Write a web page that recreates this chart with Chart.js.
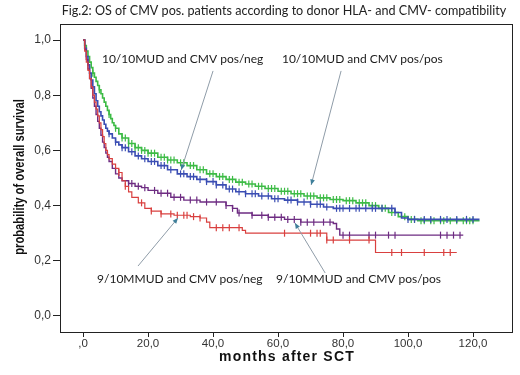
<!DOCTYPE html>
<html>
<head>
<meta charset="utf-8">
<script src="https://cdn.jsdelivr.net/npm/chart.js@4.4.1/dist/chart.umd.min.js"></script>
<style>
  html, body { margin: 0; padding: 0; background: #fff; }
  #wrap { width: 520px; height: 375px; }
</style>
</head>
<body>
<div id="wrap"><canvas id="km" width="520" height="375"></canvas></div>
<script>
// Kaplan-Meier steps (months after SCT / probability of survival)
const greenMonths = [0, 0.5, 1, 1.5, 2, 2.5, 3, 3.5, 4, 4.5, 5, 5.5, 6, 6.5, 7, 7.5, 8, 8.5, 9, 9.5, 10, 11, 12, 14, 16, 18, 20, 23, 26, 29, 32, 35, 38, 41, 44, 47, 50, 53, 56, 60, 64, 68, 72, 76, 80, 84, 88, 91, 94, 97, 100, 103, 122];
const greenSurv = [1.0, 0.98, 0.96, 0.94, 0.92, 0.90, 0.88, 0.865, 0.85, 0.835, 0.82, 0.805, 0.79, 0.775, 0.76, 0.745, 0.73, 0.715, 0.70, 0.69, 0.68, 0.66, 0.645, 0.625, 0.61, 0.60, 0.59, 0.575, 0.565, 0.555, 0.545, 0.53, 0.515, 0.505, 0.495, 0.485, 0.478, 0.47, 0.462, 0.452, 0.443, 0.435, 0.428, 0.422, 0.418, 0.41, 0.40, 0.39, 0.375, 0.36, 0.35, 0.345, 0.345];
const greenCensored = [3, 5, 8, 10, 12, 13, 14, 15, 16, 17, 18, 19, 20, 21, 22, 24, 25, 26, 27, 28, 30, 31, 33, 34, 36, 37, 39, 40, 42, 43, 45, 46, 48, 49, 51, 52, 54, 55, 57, 58, 59, 61, 62, 63, 65, 66, 67, 69, 70, 71, 73, 74, 75, 77, 78, 79, 81, 82, 83, 85, 86, 87, 89, 90, 92, 93, 95, 99, 101, 102, 104, 105, 107, 108, 110, 111, 113, 115, 117, 118, 119, 120];

const blueMonths = [0, 0.5, 1, 1.5, 2, 2.5, 3, 3.5, 4, 4.5, 5, 5.5, 6, 6.5, 7, 7.5, 8, 9, 10, 11, 12, 14, 16, 18, 20, 23, 26, 29, 32, 35, 38, 41, 44, 47, 50, 54, 58, 62, 66, 70, 74, 77, 96, 98, 100, 122];
const blueSurv = [1.0, 0.97, 0.94, 0.91, 0.88, 0.855, 0.83, 0.805, 0.78, 0.76, 0.74, 0.725, 0.71, 0.695, 0.68, 0.67, 0.66, 0.645, 0.63, 0.62, 0.61, 0.595, 0.58, 0.57, 0.56, 0.545, 0.53, 0.515, 0.505, 0.495, 0.487, 0.475, 0.46, 0.45, 0.443, 0.435, 0.425, 0.42, 0.413, 0.405, 0.395, 0.39, 0.375, 0.355, 0.35, 0.35];
const blueCensored = [8, 10, 12, 13, 15, 17, 19, 21, 22, 24, 25, 27, 30, 31, 33, 34, 36, 38, 40, 41, 43, 45, 46, 48, 50, 52, 53, 55, 57, 59, 60, 63, 64, 66, 68, 70, 72, 73, 75, 78, 79, 80, 82, 84, 85, 87, 89, 90, 92, 95, 96, 100, 102, 105, 107, 110, 112, 115, 118, 120];

const purpleMonths = [0, 0.5, 1, 1.5, 2, 2.5, 3, 3.5, 4, 4.5, 5, 5.5, 6, 6.5, 7, 7.5, 8, 9, 10, 11, 12, 14, 16, 18, 20, 23, 27, 31, 36, 44, 46, 47.5, 52, 57, 62, 67, 77, 78, 79, 117];
const purpleSurv = [1.0, 0.965, 0.93, 0.895, 0.86, 0.825, 0.79, 0.76, 0.73, 0.705, 0.68, 0.655, 0.63, 0.61, 0.59, 0.575, 0.56, 0.535, 0.515, 0.50, 0.49, 0.48, 0.47, 0.465, 0.455, 0.445, 0.43, 0.42, 0.413, 0.40, 0.39, 0.373, 0.365, 0.358, 0.35, 0.34, 0.335, 0.315, 0.293, 0.293];
const purpleCensored = [14, 15, 17, 19, 22, 24, 26, 28, 30, 33, 35, 38, 41, 44, 46, 48, 52, 55, 57, 59, 61, 63, 65, 67, 69, 71, 74, 76, 80, 82, 88, 90, 94, 96, 110, 112, 114, 116];

const redMonths = [0, 0.5, 1, 1.5, 2, 2.5, 3, 3.5, 4, 4.5, 5, 5.5, 6, 6.5, 7, 7.5, 8, 9, 10, 11, 12, 13, 14, 15, 17, 19, 21, 24, 28, 33, 36, 38, 39, 49, 50, 75, 90, 115];
const redSurv = [1.0, 0.96, 0.92, 0.89, 0.86, 0.83, 0.80, 0.775, 0.75, 0.725, 0.70, 0.675, 0.65, 0.625, 0.60, 0.585, 0.57, 0.55, 0.535, 0.52, 0.49, 0.47, 0.45, 0.43, 0.41, 0.39, 0.38, 0.37, 0.365, 0.36, 0.355, 0.34, 0.32, 0.31, 0.30, 0.275, 0.23, 0.23];
const redCensored = [11, 13, 18, 21, 24, 27, 29, 31, 32, 34, 36, 41, 43, 45, 48, 62, 70, 72, 73, 75, 77, 82, 88, 95, 98, 105, 111, 113];

const xTicks = [0, 20, 40, 60, 80, 100, 120];
const yTicks = [0, 0.2, 0.4, 0.6, 0.8, 1.0];

const groupLabels = [
  "10/10MUD and CMV pos/neg",
  "10/10MUD and CMV pos/pos",
  "9/10MMUD and CMV pos/neg",
  "9/10MMUD and CMV pos/pos"
];

// where the callout texts sit and where their arrows point (data units)
const callouts = [
  { text: groupLabels[0], at: [5.8, 0.931], from: [40, 0.888], to: [30.2, 0.529] },
  { text: groupLabels[1], at: [61.2, 0.931], from: [79.4, 0.888], to: [70.2, 0.475] },
  { text: groupLabels[2], at: [4.3, 0.134], from: [16.9, 0.181], to: [29.2, 0.355] },
  { text: groupLabels[3], at: [59.4, 0.134], from: [74.5, 0.156], to: [65.2, 0.337] }
];

function steps(months, surv) {
  return months.map((m, i) => ({ x: m, y: surv[i] }));
}

function survAt(months, surv, t) {
  let v = surv[0];
  for (let i = 0; i < months.length; i++) {
    if (months[i] <= t) v = surv[i];
  }
  return v;
}

function censorMarks(months, surv, cens) {
  return cens.map((t) => ({ x: t, y: survAt(months, surv, t) }));
}

function curve(label, months, surv, color, width) {
  return {
    label: label,
    data: steps(months, surv),
    showLine: true,
    stepped: true,
    borderColor: color,
    borderWidth: width,
    pointRadius: 0,
    fill: false
  };
}

function ticksOf(label, months, surv, cens, color) {
  return {
    label: label + " censored",
    data: censorMarks(months, surv, cens),
    showLine: false,
    pointStyle: "line",
    rotation: 90,
    pointRadius: 3.5,
    borderColor: color,
    borderWidth: 1.2
  };
}

const green = "#3cbb45";
const blue = "#3a4db3";
const purple = "#6e2c82";
const red = "#d9403f";

const datasets = [
  curve(groupLabels[2], redMonths, redSurv, red, 1.2),
  ticksOf(groupLabels[2], redMonths, redSurv, redCensored, red),
  curve(groupLabels[3], purpleMonths, purpleSurv, purple, 1.4),
  ticksOf(groupLabels[3], purpleMonths, purpleSurv, purpleCensored, purple),
  curve(groupLabels[1], blueMonths, blueSurv, blue, 1.6),
  ticksOf(groupLabels[1], blueMonths, blueSurv, blueCensored, blue),
  curve(groupLabels[0], greenMonths, greenSurv, green, 1.6),
  ticksOf(groupLabels[0], greenMonths, greenSurv, greenCensored, green)
];

function fmt(v) {
  if (v === 0) return ",0";
  return v.toFixed(1).replace(".", ",");
}

const decorPlugin = {
  id: "decor",
  afterDatasetsDraw(chart) {
    const { ctx, scales: { x, y } } = chart;
    ctx.save();
    callouts.forEach((c) => {
      const x0 = x.getPixelForValue(c.from[0]);
      const y0 = y.getPixelForValue(c.from[1]);
      const x1 = x.getPixelForValue(c.to[0]);
      const y1 = y.getPixelForValue(c.to[1]);
      ctx.strokeStyle = "#8f9ca8";
      ctx.lineWidth = 1;
      ctx.beginPath();
      ctx.moveTo(x0, y0);
      ctx.lineTo(x1, y1);
      ctx.stroke();
      // small arrowhead
      const a = Math.atan2(y1 - y0, x1 - x0);
      ctx.fillStyle = "#3f7f9a";
      ctx.beginPath();
      ctx.moveTo(x1, y1);
      ctx.lineTo(x1 - 6 * Math.cos(a - 0.4), y1 - 6 * Math.sin(a - 0.4));
      ctx.lineTo(x1 - 6 * Math.cos(a + 0.4), y1 - 6 * Math.sin(a + 0.4));
      ctx.closePath();
      ctx.fill();

      ctx.fillStyle = "#1a1a1a";
      ctx.font = '12px Lato';
      ctx.textAlign = "left";
      ctx.textBaseline = "middle";
      ctx.fillText(c.text, x.getPixelForValue(c.at[0]), y.getPixelForValue(c.at[1]));
    });
    ctx.restore();
  },
  afterDraw(chart) {
    const { ctx, chartArea: a } = chart;
    ctx.save();
    ctx.strokeStyle = "#222";
    ctx.lineWidth = 1;
    ctx.strokeRect(Math.round(a.left) + 0.5, Math.round(a.top) + 0.5,
      Math.round(a.right - a.left), Math.round(a.bottom - a.top));

    ctx.fillStyle = "#222";
    ctx.textAlign = "center";
    ctx.textBaseline = "middle";
    ctx.font = '12.6px Lato';
    ctx.fillText("Fig.2: OS of CMV pos. patients according to donor HLA- and CMV- compatibility", 284, 11);

    ctx.fillStyle = "#111";
    ctx.font = 'bold 14px "Liberation Sans"';
    ctx.letterSpacing = "1.2px";
    ctx.fillText("months after SCT", 287, 357);
    ctx.letterSpacing = "0px";

    ctx.translate(20, 177);
    ctx.rotate(-Math.PI / 2);
    ctx.scale(0.8, 1);
    ctx.font = 'bold 14px "Liberation Sans"';
    ctx.fillText("probability of overall survival", 0, 0);
    ctx.restore();
  }
};

const ctx = document.getElementById("km");
const chart = new Chart(ctx, {
  type: "scatter",
  data: { datasets: datasets },
  options: {
    responsive: false,
    animation: false,
    layout: { padding: { top: 24, right: 8, left: 0, bottom: 0 } },
    plugins: {
      legend: { display: false },
      tooltip: { enabled: false }
    },
    scales: {
      x: {
        type: "linear",
        min: -7.1,
        max: 132,
        afterBuildTicks: (s) => { s.ticks = xTicks.map((v) => ({ value: v })); },
        afterFit: (s) => { s.height = 43; },
        ticks: {
          callback: (v) => fmt(v),
          color: "#333",
          font: { family: "Liberation Sans", size: 11.5 },
          padding: 0,
          maxRotation: 0,
          autoSkip: false
        },
        grid: { drawOnChartArea: false, drawTicks: true, tickLength: 5, color: "#222" },
        border: { display: true, color: "#222" }
      },
      y: {
        type: "linear",
        min: -0.058,
        max: 1.058,
        afterBuildTicks: (s) => { s.ticks = yTicks.map((v) => ({ value: v })); },
        afterFit: (s) => { s.width = 60; },
        ticks: {
          callback: (v) => v.toFixed(1).replace(".", ","),
          color: "#333",
          font: { family: "Liberation Sans", size: 12 },
          padding: 2,
          autoSkip: false
        },
        grid: { drawOnChartArea: false, drawTicks: true, tickLength: 7, color: "#222" },
        border: { display: true, color: "#222" }
      }
    }
  },
  plugins: [decorPlugin]
});
</script>
</body>
</html>
